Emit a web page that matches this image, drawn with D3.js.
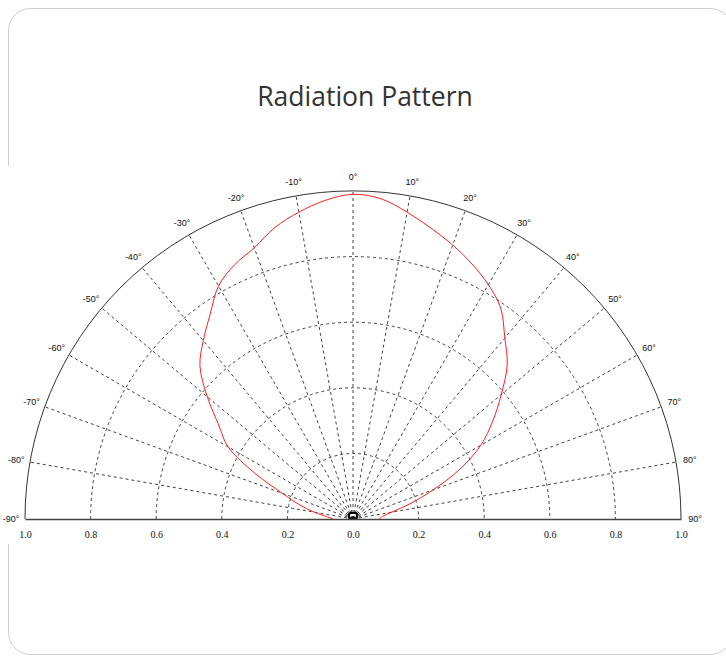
<!DOCTYPE html>
<html>
<head>
<meta charset="utf-8">
<script src="https://cdn.jsdelivr.net/npm/d3@7"></script>
<style>
  body { margin: 0; background: #fff; }
  svg { display: block; }
</style>
</head>
<body>
<svg id="chart" width="726" height="656"></svg>
<script>
// measured pattern (angle in degrees, relative intensity)
var angles = [-90, -85, -80, -75, -70, -65, -60, -55, -50, -45, -40, -35, -30, -25, -20, -15, -10, -5,
  0, 5, 10, 15, 20, 25, 30, 35, 40, 45, 50, 55, 60, 65, 70, 75, 80, 85, 90];
var intensity = [0.06, 0.08, 0.12, 0.17, 0.23, 0.33, 0.44, 0.50, 0.58, 0.66, 0.71, 0.76, 0.82, 0.855, 0.88, 0.92, 0.95, 0.975,
  0.99, 0.98, 0.95, 0.918, 0.889, 0.858, 0.825, 0.785, 0.72, 0.665, 0.59, 0.52, 0.45, 0.36, 0.26, 0.18, 0.12, 0.09, 0.08];

var gridAngles = [-80, -70, -60, -50, -40, -30, -20, -10, 0, 10, 20, 30, 40, 50, 60, 70, 80];
var labelAngles = [-90, -80, -70, -60, -50, -40, -30, -20, -10, 0, 10, 20, 30, 40, 50, 60, 70, 80, 90];
var ringValues = [0.2, 0.4, 0.6, 0.8];
var xTicks = [-1, -0.8, -0.6, -0.4, -0.2, 0, 0.2, 0.4, 0.6, 0.8, 1];

var svg = d3.select("#chart");

// card outline
svg.append("rect")
  .attr("x", 8.5).attr("y", 8.5)
  .attr("width", 724).attr("height", 646)
  .attr("rx", 22)
  .attr("fill", "#fff")
  .attr("stroke", "#cfcfcf");

svg.append("text")
  .attr("x", 365).attr("y", 106)
  .attr("text-anchor", "middle")
  .attr("font-family", "'Open Sans', sans-serif")
  .attr("font-size", 26.5)
  .attr("fill", "#333")
  .text("Radiation Pattern");

// the plot sits on a white panel that hides the card border
svg.append("rect")
  .attr("x", 0).attr("y", 166)
  .attr("width", 726).attr("height", 378)
  .attr("fill", "#fff");

var cx = 353, cy = 519, R = 328;
var rad = d3.scaleLinear().domain([0, 1]).range([0, R]);
var x = d3.scaleLinear().domain([-1, 1]).range([cx - R, cx + R]);
var toRad = function(d) { return d * Math.PI / 180; };

// upper half circle, drawn once from left to right
function halfCircle(r) {
  var p = d3.path();
  p.moveTo(-r, 0);
  p.arc(0, 0, r, Math.PI, 2 * Math.PI);
  return p.toString();
}

var g = svg.append("g").attr("transform", "translate(" + cx + "," + cy + ")");

// dashed rings
g.selectAll(".ring")
  .data(ringValues)
  .enter().append("path")
  .attr("class", "ring")
  .attr("d", function(d) { return halfCircle(rad(d)); })
  .attr("fill", "none")
  .attr("stroke", "#111")
  .attr("stroke-width", 0.8)
  .attr("stroke-dasharray", "3,3");

// dashed spokes
g.selectAll(".spoke")
  .data(gridAngles)
  .enter().append("line")
  .attr("class", "spoke")
  .attr("x1", 0).attr("y1", 0)
  .attr("x2", function(d) { return rad(1) * Math.sin(toRad(d)); })
  .attr("y2", function(d) { return -rad(1) * Math.cos(toRad(d)); })
  .attr("stroke", "#111")
  .attr("stroke-width", 0.8)
  .attr("stroke-dasharray", "3,3");

// outer arc
g.append("path")
  .attr("d", halfCircle(rad(1)))
  .attr("fill", "none")
  .attr("stroke", "#333")
  .attr("stroke-width", 1);

// angle labels
g.selectAll(".alabel")
  .data(labelAngles)
  .enter().append("text")
  .attr("class", "alabel")
  .attr("x", function(d) { return (rad(1) + 14) * Math.sin(toRad(d)); })
  .attr("y", function(d) { return -(rad(1) + 14) * Math.cos(toRad(d)) + 3; })
  .attr("text-anchor", "middle")
  .attr("font-family", "'Liberation Sans', sans-serif")
  .attr("font-size", 9)
  .attr("fill", "#111")
  .text(function(d) { return d + "\u00b0"; });

// pattern curve
var pts = angles.map(function(a, i) { return [toRad(a), rad(intensity[i])]; });
g.append("path")
  .attr("d", d3.lineRadial().curve(d3.curveCatmullRom)(pts))
  .attr("fill", "none")
  .attr("stroke", "#ff2020")
  .attr("stroke-width", 1);

// centre marker
g.append("rect")
  .attr("x", -4).attr("y", -6)
  .attr("width", 8).attr("height", 6)
  .attr("rx", 2)
  .attr("fill", "none")
  .attr("stroke", "#000")
  .attr("stroke-width", 2);

// bottom axis
var axis = d3.axisBottom(x)
  .tickValues(xTicks)
  .tickSize(0)
  .tickPadding(12)
  .tickFormat(function(d) { return d3.format(".1f")(Math.abs(d)); });

var ax = svg.append("g")
  .attr("transform", "translate(0," + cy + ")")
  .call(axis);
ax.select(".domain").attr("stroke", "#444").attr("stroke-width", 1.5);
ax.selectAll("text")
  .attr("font-family", "'Liberation Serif', serif")
  .attr("font-size", 10)
  .attr("fill", "#111");
</script>
</body>
</html>
